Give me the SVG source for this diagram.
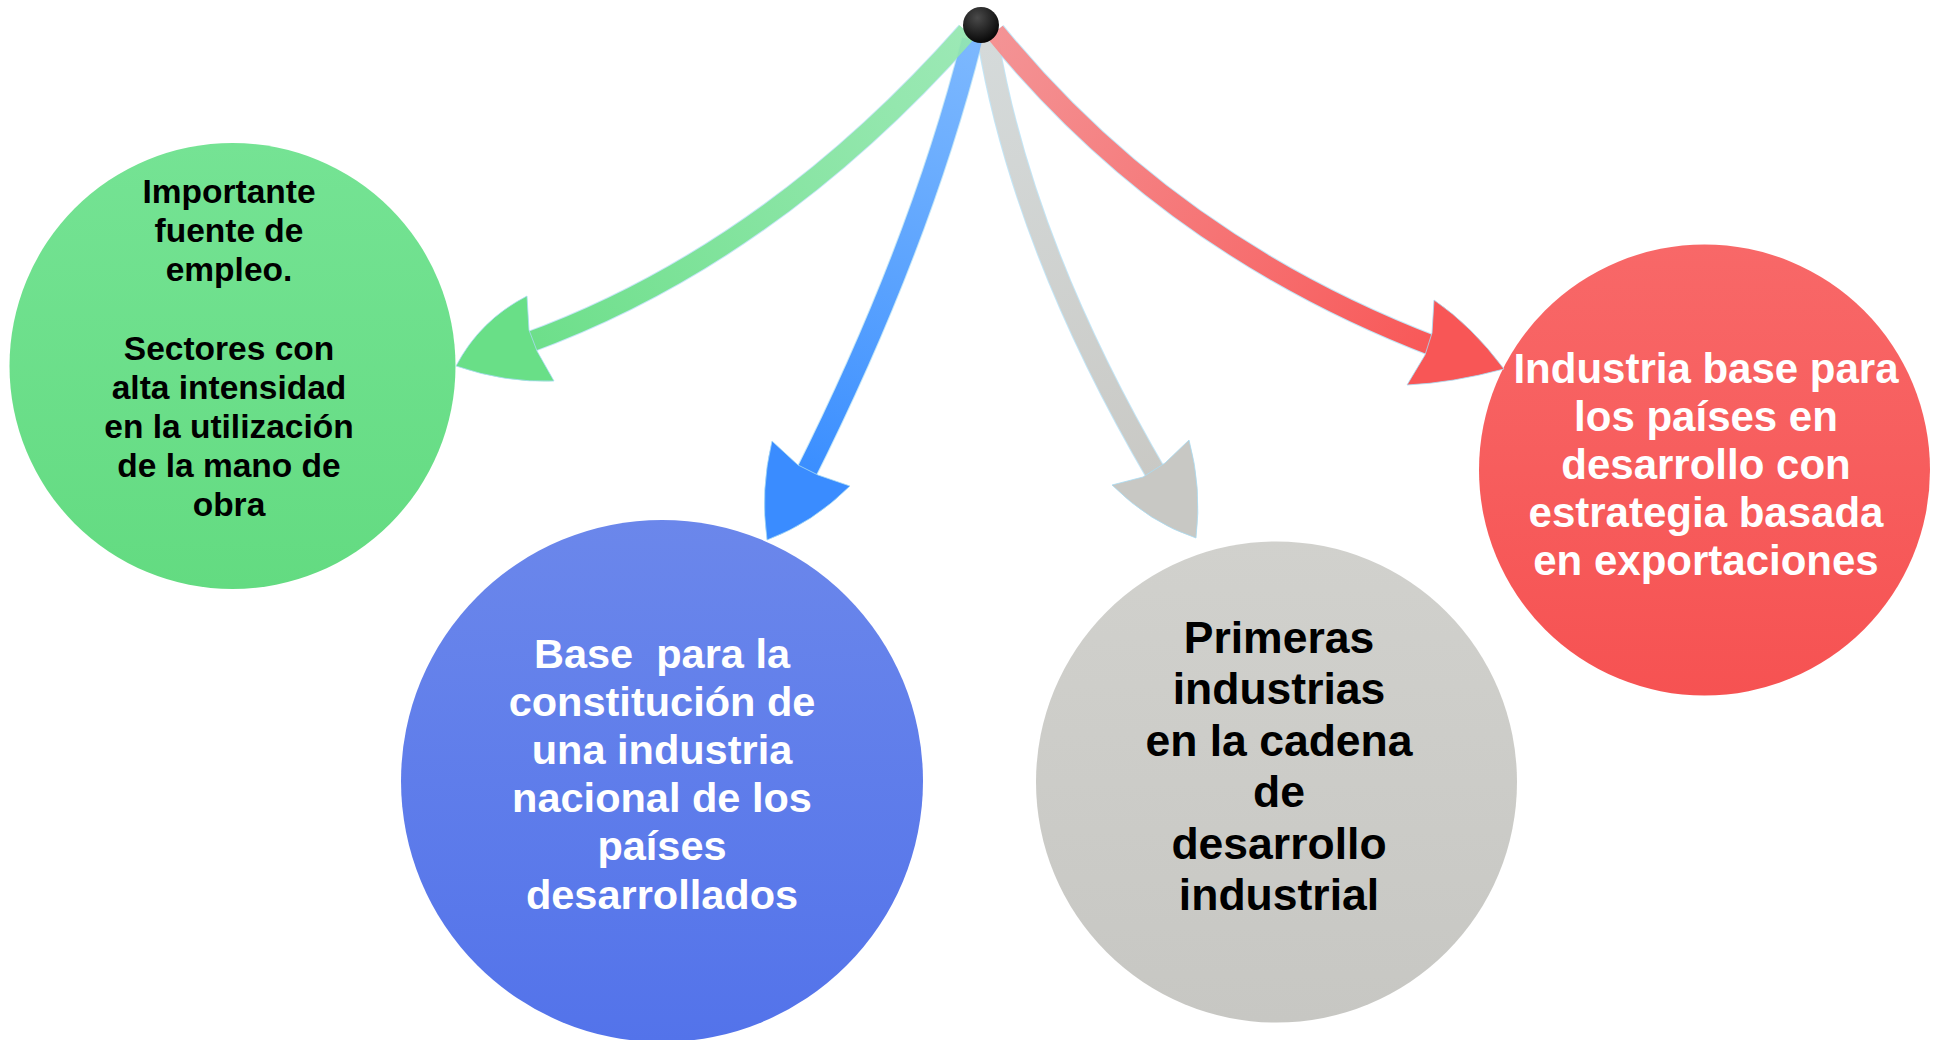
<svg xmlns="http://www.w3.org/2000/svg" width="1934" height="1040" viewBox="0 0 1934 1040">
<defs>
  <linearGradient id="gGreen" x1="0" y1="0" x2="0" y2="1"><stop offset="0" stop-color="#75e394"/><stop offset="1" stop-color="#63db81"/></linearGradient>
  <linearGradient id="gBlue" x1="0" y1="0" x2="0" y2="1"><stop offset="0" stop-color="#6b87eb"/><stop offset="1" stop-color="#5373ea"/></linearGradient>
  <linearGradient id="gGray" x1="0" y1="0" x2="0" y2="1"><stop offset="0" stop-color="#d1d1cd"/><stop offset="1" stop-color="#c7c7c3"/></linearGradient>
  <linearGradient id="gRed" x1="0" y1="0" x2="0" y2="1"><stop offset="0" stop-color="#f86868"/><stop offset="1" stop-color="#f65252"/></linearGradient>
  <linearGradient id="sGreen" gradientUnits="userSpaceOnUse" x1="967" y1="32" x2="530" y2="342"><stop offset="0" stop-color="#95e9aa" stop-opacity="0.85"/><stop offset="1" stop-color="#6ddf8a"/></linearGradient>
  <linearGradient id="sBlue" gradientUnits="userSpaceOnUse" x1="972" y1="40" x2="806" y2="474"><stop offset="0" stop-color="#70b0ff" stop-opacity="0.85"/><stop offset="1" stop-color="#3a8eff"/></linearGradient>
  <linearGradient id="sGray" gradientUnits="userSpaceOnUse" x1="988" y1="40" x2="1156" y2="474"><stop offset="0" stop-color="#d8d8d5" stop-opacity="0.85"/><stop offset="1" stop-color="#c9c9c5"/></linearGradient>
  <linearGradient id="sRed" gradientUnits="userSpaceOnUse" x1="995" y1="32" x2="1432" y2="345"><stop offset="0" stop-color="#f98a8a" stop-opacity="0.9"/><stop offset="1" stop-color="#f85858"/></linearGradient>
  <radialGradient id="gDot" cx="0.4" cy="0.3" r="0.7"><stop offset="0" stop-color="#4a4a4a"/><stop offset="1" stop-color="#080808"/></radialGradient>
  <style>
    .t { font-family: "Liberation Sans", Arial, sans-serif; font-weight: bold; text-anchor: middle; }
    .edge { fill: none; stroke: #a9dcf4; stroke-width: 22; stroke-opacity: 0.7; }
    .shaft { fill: none; stroke-width: 20; }
    .head { stroke: #a9dcf4; stroke-width: 1; stroke-opacity: 0.8; }
  </style>
</defs>
<rect width="1934" height="1040" fill="#ffffff"/>

<g id="node-green">
  <circle cx="232.5" cy="366" r="223" fill="url(#gGreen)"/>
  <text class="t" font-size="33.5" fill="#000000"><tspan x="229" y="203.3">Importante</tspan><tspan x="229" y="242.4">fuente de</tspan><tspan x="229" y="281.4">empleo.</tspan><tspan x="229" y="359.5">Sectores con</tspan><tspan x="229" y="398.6">alta intensidad</tspan><tspan x="229" y="437.6">en la utilización</tspan><tspan x="229" y="476.7">de la mano de</tspan><tspan x="229" y="515.7">obra</tspan></text>
</g>

<g id="node-blue">
  <circle cx="662" cy="781" r="261" fill="url(#gBlue)"/>
  <text class="t" font-size="41.5" fill="#ffffff"><tspan x="662" y="668" style="white-space:pre">Base  para la</tspan><tspan x="662" y="716.1">constitución de</tspan><tspan x="662" y="764.2">una industria</tspan><tspan x="662" y="812.3">nacional de los</tspan><tspan x="662" y="860.4">países</tspan><tspan x="662" y="908.5">desarrollados</tspan></text>
</g>

<g id="node-gray">
  <circle cx="1276.5" cy="782" r="240.5" fill="url(#gGray)"/>
  <text class="t" font-size="44.5" fill="#000000"><tspan x="1279" y="652.7">Primeras</tspan><tspan x="1279" y="704.2">industrias</tspan><tspan x="1279" y="755.7">en la cadena</tspan><tspan x="1279" y="807.2">de</tspan><tspan x="1279" y="858.7">desarrollo</tspan><tspan x="1279" y="910.2">industrial</tspan></text>
</g>

<g id="node-red">
  <circle cx="1704.5" cy="470" r="225.5" fill="url(#gRed)"/>
  <text class="t" font-size="42" fill="#ffffff"><tspan x="1706" y="382.7">Industria base para</tspan><tspan x="1706" y="430.8">los países en</tspan><tspan x="1706" y="478.9">desarrollo con</tspan><tspan x="1706" y="527">estrategia basada</tspan><tspan x="1706" y="575.1">en exportaciones</tspan></text>
</g>

<g id="connectors">
  <path class="edge" d="M 967,32 Q 770,254.5 527,343"/>
  <path class="edge" d="M 988,40 Q 1023,246.5 1158,477"/>
  <path class="edge" d="M 972,40 Q 920,246 804,477"/>
  <path class="edge" d="M 995,32 Q 1168.5,245 1436,347"/>
  <path class="shaft" stroke="url(#sGray)" d="M 988,40 Q 1023,246.5 1158,477"/>
  <path class="shaft" stroke="url(#sBlue)" d="M 972,40 Q 920,246 804,477"/>
  <path class="shaft" stroke="url(#sGreen)" d="M 967,32 Q 770,254.5 527,343"/>
  <path class="shaft" stroke="url(#sRed)" d="M 995,32 Q 1168.5,245 1436,347"/>
  <path class="head" fill="#69df87" d="M 456,366 Q 480,320 527,296 L 529,330 L 537,351 L 554,381 Q 505,383 456,366 Z"/>
  <path class="head" fill="#3a8cff" d="M 767,540 Q 760,490 772,441 L 798,465 L 818,475 L 850,486 Q 813,523 767,540 Z"/>
  <path class="head" fill="#c8c8c4" d="M 1196,538 Q 1202,488 1189,440 L 1165,463 L 1143,477 L 1112,485 Q 1150,523 1196,538 Z"/>
  <path class="head" fill="#f85656" d="M 1504,369 Q 1472,326 1434,300 L 1432,333 L 1425,355 L 1407,385 Q 1452,383 1504,369 Z"/>
</g>

<g id="node-source">
  <circle cx="981" cy="25" r="18" fill="url(#gDot)"/>
</g>
</svg>
